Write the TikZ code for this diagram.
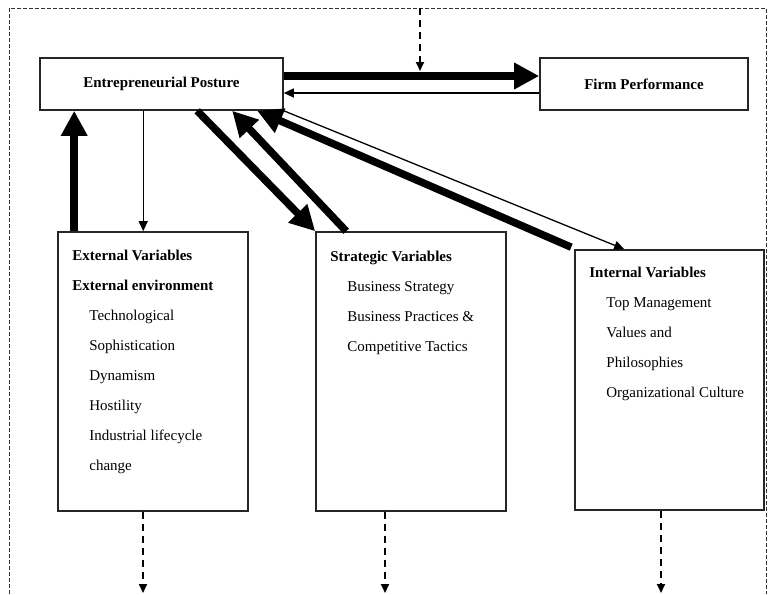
\documentclass[tikz,border=0pt]{standalone}
\usepackage{fontspec}
\setmainfont{Liberation Serif}
\usetikzlibrary{arrows.meta}

\tikzset{
  box/.style={draw=black!85, line width=1.6pt, inner sep=0pt,
    font=\fontsize{15}{18}\selectfont\bfseries},
  boxtext/.style={anchor=north west, align=left, inner sep=0pt,
    font=\fontsize{15}{30}\selectfont},
  fat/.style={line width=7.5pt, -{Triangle[length=25pt,width=25pt]}},
  slim/.style={line width=1.3pt, -{Triangle[length=10pt,width=9pt]}},
  dasharrow/.style={line width=1.8pt, dash pattern=on 7pt off 5pt,
    -{Triangle[length=9pt,width=8pt]}},
}

\newcommand{\ind}{\hspace*{17pt}}

\begin{document}
\begin{tikzpicture}[x=1pt,y=-1pt]
            \useasboundingbox (0,0) rectangle (770,594);

            % outer frame
            \draw[line width=0.8pt, dash pattern=on 4pt off 2pt, black!80]
                (9,594) -- (9,8) -- (766,8) -- (766,594);

            \node[box, minimum width=243pt, minimum height=52pt] (ep) at (161.5,84) {Entrepreneurial Posture};
            \node[box, minimum width=208pt, minimum height=52pt] (fp) at (644,84) {Firm Performance};

            \node[box, minimum width=190pt, minimum height=279pt] (ext) at (153,371.5) {};
            \node[box, minimum width=190pt, minimum height=279pt] (strat) at (411,371.5) {};
            \node[box, minimum width=189pt, minimum height=260pt] (int) at (669.5,380) {};

            \node[boxtext] (ext-txt) at ([xshift=15pt,yshift=-19pt]ext.north west)
                {\textbf{External Variables}\\ \textbf{External environment}\\
                 \ind Technological\\ \ind Sophistication\\ \ind Dynamism\\
                 \ind Hostility\\ \ind Industrial lifecycle\\ \ind change};
            \node[boxtext] (strat-txt) at ([xshift=15pt,yshift=-20pt]strat.north west)
                {\textbf{Strategic Variables}\\ \ind Business Strategy\\
                 \ind Business Practices \&\\ \ind Competitive Tactics};
            \node[boxtext] (int-txt) at ([xshift=15pt,yshift=-18pt]int.north west)
                {\textbf{Internal Variables}\\ \ind Top Management\\
                 \ind Values and\\ \ind Philosophies\\ \ind Organizational Culture};

            % posture <-> performance
            \draw[fat] ([yshift=8pt]ep.east) -- ([yshift=8pt]fp.west);
            \draw[slim] ([yshift=-9pt]fp.west) -- ([yshift=-9pt]ep.east);

            \coordinate (src) at (420,8);
            \coordinate (hit) at (420,71);
            \draw[dasharrow] (src) -- (hit);

            % posture <-> variables
            \draw[fat] ([xshift=17pt]ext.north west) -- ([xshift=35pt]ep.south west);
            \draw[slim] ([xshift=104pt]ep.south west) -- ([xshift=86pt]ext.north west);
            \draw[fat] ([xshift=158pt]ep.south west) -- (strat.north west);
            \draw[fat] ([xshift=31pt]strat.north west) -- ([xshift=193pt]ep.south west);
            \draw[fat] ([xshift=-3pt,yshift=2pt]int.north west) -- ([xshift=218pt]ep.south west);
            \draw[slim] (ep.south east) -- ([xshift=50pt]int.north west);

            % onward
            \coordinate (ext-out) at (143,593);
            \coordinate (strat-out) at (385,593);
            \coordinate (int-out) at (661,593);
            \draw[dasharrow] (ext.south -| ext-out) -- (ext-out);
            \draw[dasharrow] (strat.south -| strat-out) -- (strat-out);
            \draw[dasharrow] (int.south -| int-out) -- (int-out);
\end{tikzpicture}
\end{document}
